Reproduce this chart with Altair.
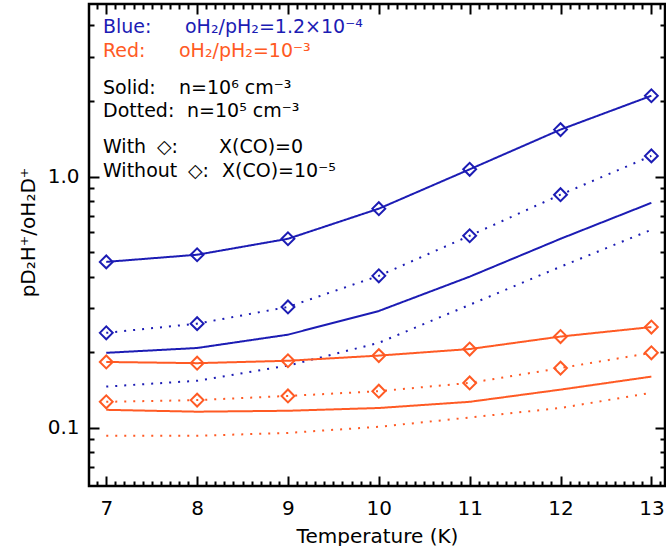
import altair as alt
import pandas as pd

FONT = "DejaVu Sans"
BLUE = "#1c1cb4"
RED = "#ff5a24"

temperature = [7, 8, 9, 10, 11, 12, 13]

# oH2/pH2 = 1.2e-4
blue_dense_noco = [0.458, 0.489, 0.566, 0.746, 1.07, 1.54, 2.10]
blue_diffuse_noco = [0.239, 0.260, 0.303, 0.403, 0.582, 0.848, 1.21]
blue_dense_co = [0.199, 0.208, 0.235, 0.292, 0.400, 0.566, 0.787]
blue_diffuse_co = [0.146, 0.154, 0.177, 0.218, 0.309, 0.438, 0.615]

# oH2/pH2 = 1e-3
red_dense_noco = [0.183, 0.181, 0.185, 0.194, 0.206, 0.231, 0.252]
red_diffuse_noco = [0.127, 0.129, 0.134, 0.140, 0.151, 0.173, 0.199]
red_dense_co = [0.118, 0.116, 0.117, 0.120, 0.127, 0.142, 0.160]
red_diffuse_co = [0.093, 0.093, 0.0955, 0.101, 0.110, 0.120, 0.138]

series = [
    ("blue_dense_noco", blue_dense_noco, "1.2e-4", "1e6", "0"),
    ("blue_diffuse_noco", blue_diffuse_noco, "1.2e-4", "1e5", "0"),
    ("blue_dense_co", blue_dense_co, "1.2e-4", "1e6", "1e-5"),
    ("blue_diffuse_co", blue_diffuse_co, "1.2e-4", "1e5", "1e-5"),
    ("red_dense_noco", red_dense_noco, "1e-3", "1e6", "0"),
    ("red_diffuse_noco", red_diffuse_noco, "1e-3", "1e5", "0"),
    ("red_dense_co", red_dense_co, "1e-3", "1e6", "1e-5"),
    ("red_diffuse_co", red_diffuse_co, "1e-3", "1e5", "1e-5"),
]

rows = []
for name, values, opr, dens, co in series:
    for t, v in zip(temperature, values):
        rows.append({"series": name, "T": t, "ratio": v, "opr": opr,
                     "density": dens, "xco": co})
df = pd.DataFrame(rows)

# tick positions for the boxed frame
x_major = temperature
x_minor = [round(6.9 + 0.1 * i, 1) for i in range(63)]
x_minor = [v for v in x_minor if v not in x_major and 6.81 < v < 13.15]
y_major = [0.1, 1.0]
y_minor = [0.07, 0.08, 0.09, 0.2, 0.3, 0.4, 0.5, 0.6, 0.7, 0.8, 0.9, 2, 3, 4]

x_scale = alt.Scale(domain=[6.81, 13.15], nice=False, zero=False)
y_scale = alt.Scale(type="log", domain=[0.0587, 4.87], nice=False)

color = alt.Color("opr:N", scale=alt.Scale(domain=["1.2e-4", "1e-3"], range=[BLUE, RED]), legend=None)
dash = alt.StrokeDash("density:N", scale=alt.Scale(domain=["1e6", "1e5"], range=[[1, 0], [2, 7]]), legend=None)

base = alt.Chart(df)

lines = base.mark_line(strokeWidth=2, clip=True).encode(
    x=alt.X("T:Q", scale=x_scale, axis=alt.Axis(
        orient="bottom", values=x_major, format="d", ticks=False, tickSize=0,
        domain=False, grid=False, labelFontSize=20, labelPadding=28,
        labelBaseline="alphabetic", labelFlush=False,
        title="Temperature (K)", titleFontSize=20, titleY=56,
        titleBaseline="alphabetic")),
    y=alt.Y("ratio:Q", scale=y_scale, axis=alt.Axis(
        orient="left", values=y_major, format=".1f", ticks=False, tickSize=0,
        domain=False, grid=False, labelFontSize=20, labelPadding=10,
        labelFlush=False,
        title="pD₂H⁺/oH₂D⁺", titleFontSize=20, titleX=-55, titleY=228,
        titleAngle=270, titleAlign="center", titleBaseline="alphabetic")),
    color=color,
    strokeDash=dash,
    detail="series:N",
)

diamonds = base.transform_filter(alt.datum.xco == "0").mark_point(
    shape="diamond", filled=False, size=165, strokeWidth=2, opacity=1
).encode(
    x=alt.X("T:Q", scale=x_scale, axis=None),
    y=alt.Y("ratio:Q", scale=y_scale, axis=None),
    color=color,
)


def tick_layer(xo, yo, xvals, yvals, size):
    def ax(orient, vals):
        return alt.Axis(orient=orient, values=vals, offset=-size, tickSize=size,
                        tickWidth=2, tickColor="black", labels=False,
                        domain=False, grid=False, title=None)
    return base.mark_point(opacity=0).encode(
        x=alt.X("T:Q", scale=x_scale, axis=ax(xo, xvals)),
        y=alt.Y("ratio:Q", scale=y_scale, axis=ax(yo, yvals)),
    )


ticks = [
    tick_layer("bottom", "left", x_major, y_major, 10),
    tick_layer("bottom", "left", x_minor, y_minor, 5),
    tick_layer("top", "right", x_major, y_major, 10),
    tick_layer("top", "right", x_minor, y_minor, 5),
]


def note(text, x, y, col="black"):
    return alt.Chart(alt.Data(values=[{}])).mark_text(
        text=text, align="left", baseline="alphabetic", font=FONT,
        fontSize=19, color=col
    ).encode(x=alt.value(x), y=alt.value(y))


notes = [
    note("Blue:", 14, 29, BLUE),
    note("oH₂/pH₂=1.2×10⁻⁴", 96, 29, BLUE),
    note("Red:", 14, 53, RED),
    note("oH₂/pH₂=10⁻³", 90, 53, RED),
    note("Solid:", 14, 90),
    note("n=10⁶ cm⁻³", 90, 90),
    note("Dotted:", 14, 113),
    note("n=10⁵ cm⁻³", 98, 113),
    note("With", 14, 149),
    note("◇:", 68, 149),
    note("X(CO)=0", 130, 149),
    note("Without", 14, 173),
    note("◇:", 99, 173),
    note("X(CO)=10⁻⁵", 133, 173),
]

chart = alt.layer(lines, diamonds, *ticks, *notes).resolve_axis(
    x="independent", y="independent"
).properties(
    width=576,
    height=482,
    autosize=alt.AutoSizeParams(type="none"),
    padding={"left": 89, "top": 4, "right": 1, "bottom": 60},
    background="white",
).configure_view(
    stroke="black", strokeWidth=2.5
).configure_axis(
    labelFont=FONT, titleFont=FONT, labelColor="black", titleColor="black",
    titleFontWeight="normal"
)

chart.save("out.html", embed_options={"renderer": "svg", "actions": False})
